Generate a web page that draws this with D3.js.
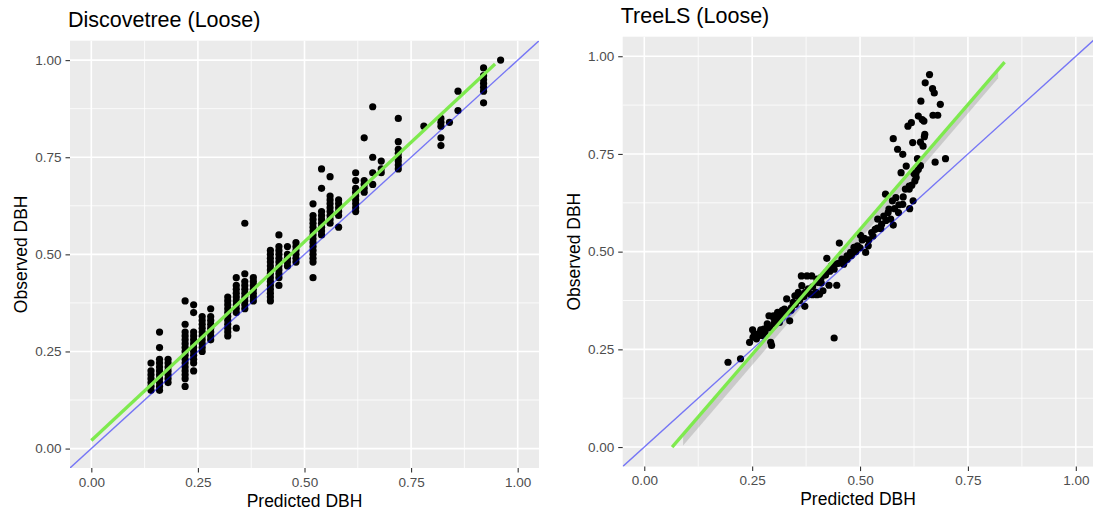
<!DOCTYPE html>
<html><head><meta charset="utf-8">
<script src="https://cdn.jsdelivr.net/npm/d3@7"></script>
<style>
html,body{margin:0;padding:0;background:#fff;}
svg{display:block;font-family:"Liberation Sans",Arial,sans-serif;}
</style></head>
<body><svg id="chart" width="1093" height="511"></svg>
<script>
// ---------------- data ----------------
const titles = ["Discovetree (Loose)", "TreeLS (Loose)"];
const xLabel = "Predicted DBH";
const yLabel = "Observed DBH";
const tickValues = [0, 0.25, 0.5, 0.75, 1.0];
const tickLabels = ["0.00", "0.25", "0.50", "0.75", "1.00"];
const minorValues = [0.125, 0.375, 0.625, 0.875];

// Discovetree: predicted value -> observed values
const discoveColumns = [
  [0.14, [0.15,0.16,0.17,0.18,0.19,0.20,0.22]],
  [0.16, [0.15,0.16,0.17,0.18,0.19,0.20,0.21,0.22,0.23,0.26,0.30]],
  [0.18, [0.17,0.18,0.19,0.20,0.21,0.22,0.23]],
  [0.22, [0.16,0.18,0.19,0.20,0.21,0.22,0.23,0.24,0.25,0.26,0.27,0.28,0.29,0.30,0.32,0.38]],
  [0.24, [0.20,0.22,0.23,0.24,0.25,0.26,0.27,0.28,0.29,0.30,0.35,0.37]],
  [0.26, [0.25,0.26,0.27,0.28,0.29,0.30,0.31,0.32,0.33,0.34]],
  [0.28, [0.28,0.29,0.30,0.31,0.32,0.33,0.34,0.36]],
  [0.32, [0.29,0.30,0.31,0.32,0.33,0.34,0.35,0.36,0.37,0.38,0.39]],
  [0.34, [0.31,0.35,0.36,0.37,0.38,0.39,0.40,0.41,0.42,0.44]],
  [0.36, [0.36,0.37,0.38,0.39,0.40,0.41,0.42,0.43,0.45,0.58]],
  [0.38, [0.38,0.39,0.40,0.41,0.42,0.43,0.44]],
  [0.42, [0.38,0.39,0.40,0.41,0.42,0.43,0.44,0.45,0.46,0.47,0.48,0.49,0.50,0.51]],
  [0.44, [0.42,0.44,0.45,0.46,0.47,0.48,0.49,0.50,0.51,0.52,0.55]],
  [0.46, [0.47,0.48,0.49,0.50,0.52]],
  [0.48, [0.48,0.49,0.50,0.51,0.52,0.53]],
  [0.52, [0.44,0.48,0.49,0.50,0.51,0.52,0.53,0.54,0.55,0.56,0.57,0.58,0.59,0.60,0.63]],
  [0.54, [0.55,0.56,0.57,0.58,0.59,0.60,0.61,0.67,0.72]],
  [0.56, [0.58,0.59,0.60,0.61,0.62,0.63,0.64,0.65,0.70]],
  [0.58, [0.57,0.60,0.61,0.62,0.63,0.64]],
  [0.62, [0.61,0.62,0.63,0.64,0.65,0.66,0.67,0.69,0.71]],
  [0.64, [0.66,0.67,0.68,0.69,0.80]],
  [0.66, [0.68,0.71,0.75,0.88]],
  [0.68, [0.71,0.72,0.74]],
  [0.72, [0.72,0.73,0.74,0.75,0.76,0.77,0.79,0.85]],
  [0.78, [0.83]],
  [0.82, [0.78,0.80,0.83,0.84,0.85]],
  [0.84, [0.84]],
  [0.86, [0.87,0.92]],
  [0.92, [0.89,0.92,0.93,0.94,0.95,0.96,0.98]],
  [0.96, [1.00]]
];

// TreeLS: [predicted, observed]
const treelsPoints = [
  [0.194,0.217],[0.223,0.226],[0.251,0.300],[0.244,0.268],[0.252,0.281],[0.260,0.277],
  [0.269,0.294],[0.277,0.302],[0.285,0.315],[0.293,0.268],[0.295,0.260],[0.289,0.336],
  [0.299,0.336],[0.309,0.345],[0.313,0.319],[0.325,0.353],[0.330,0.379],[0.337,0.323],
  [0.341,0.357],[0.349,0.387],[0.357,0.396],[0.365,0.413],[0.372,0.360],[0.364,0.438],
  [0.377,0.438],[0.388,0.438],[0.373,0.396],[0.385,0.391],[0.398,0.396],[0.406,0.391],
  [0.414,0.400],[0.402,0.421],[0.410,0.434],[0.422,0.447],[0.423,0.483],[0.428,0.414],
  [0.446,0.414],[0.440,0.279],[0.434,0.464],[0.442,0.468],[0.452,0.522],[0.458,0.481],
  [0.462,0.468],[0.470,0.489],[0.478,0.498],[0.486,0.511],[0.494,0.515],[0.501,0.542],
  [0.513,0.498],[0.519,0.515],[0.510,0.534],[0.527,0.549],[0.535,0.557],[0.541,0.583],
  [0.548,0.559],[0.555,0.591],[0.559,0.647],[0.567,0.609],[0.571,0.583],[0.577,0.568],
  [0.577,0.789],[0.575,0.630],[0.583,0.638],[0.587,0.762],[0.589,0.600],[0.595,0.702],
  [0.599,0.749],[0.599,0.621],[0.607,0.719],[0.611,0.821],[0.614,0.668],[0.614,0.660],
  [0.619,0.830],[0.622,0.779],[0.623,0.630],[0.627,0.681],[0.630,0.702],[0.633,0.738],
  [0.635,0.847],[0.641,0.885],[0.644,0.838],[0.646,0.770],[0.649,0.794],[0.648,0.834],
  [0.651,0.932],[0.661,0.953],[0.668,0.917],[0.672,0.906],[0.674,0.729],[0.669,0.849],
  [0.680,0.849],[0.686,0.877],[0.698,0.738],
  [0.255,0.290],[0.265,0.285],[0.270,0.300],[0.275,0.285],[0.280,0.295],[0.290,0.305],
  [0.300,0.315],[0.300,0.330],[0.310,0.325],[0.310,0.340],[0.320,0.335],[0.320,0.350],
  [0.330,0.345],[0.340,0.350],[0.345,0.370],[0.350,0.365],[0.360,0.375],[0.360,0.390],
  [0.370,0.385],[0.380,0.395],[0.380,0.405],[0.390,0.390],[0.390,0.410],[0.400,0.390],
  [0.400,0.430],[0.410,0.420],[0.420,0.440],[0.430,0.450],[0.440,0.455],[0.450,0.470],
  [0.470,0.480],[0.480,0.490],[0.490,0.500],[0.500,0.510],[0.505,0.530],[0.520,0.530],
  [0.530,0.540],[0.540,0.560],[0.550,0.570],[0.560,0.580],[0.565,0.600],[0.580,0.610],
  [0.590,0.620],[0.600,0.640],[0.605,0.660],[0.620,0.670],[0.630,0.690],[0.635,0.710],
  [0.640,0.720],[0.615,0.610],[0.625,0.700],[0.640,0.780],[0.650,0.800]
];

// fitted lines (end points) and confidence band
const discoveFit = [[0.0, 0.021], [0.947, 0.990]];
const treelsFit = [[0.0645, 0.0], [0.835, 0.985]];
const treelsBand = [[0.09, 0.004, 0.031], [0.82, 0.944, 0.970]]; // x, lower, upper

// ---------------- drawing ----------------
const svg = d3.select("#chart");
const panels = [
  {x0: 70, x1: 539, y0: 40.7, y1: 468, title: titles[0]},
  {x0: 622.7, x1: 1097.4, y0: 36.7, y1: 466.6, title: titles[1]}
];
const fontTick = 13.5, fontAxis = 17.5, fontTitle = 21.5;

panels.forEach((p, i) => {
  const x = d3.scaleLinear().domain([-0.05, 1.05]).range([p.x0, p.x1]);
  const y = d3.scaleLinear().domain([-0.05, 1.05]).range([p.y1, p.y0]);
  const g = svg.append("g");
  const clipId = "clip" + i;
  svg.append("clipPath").attr("id", clipId).append("rect")
    .attr("x", p.x0).attr("y", p.y0).attr("width", p.x1 - p.x0).attr("height", p.y1 - p.y0);

  g.append("rect").attr("x", p.x0).attr("y", p.y0)
    .attr("width", p.x1 - p.x0).attr("height", p.y1 - p.y0).attr("fill", "#EBEBEB");

  // minor grid
  g.selectAll(".mx").data(minorValues).join("line")
    .attr("x1", d => x(d)).attr("x2", d => x(d)).attr("y1", p.y0).attr("y2", p.y1)
    .attr("stroke", "#fff").attr("stroke-width", 0.8);
  g.selectAll(".my").data(minorValues).join("line")
    .attr("y1", d => y(d)).attr("y2", d => y(d)).attr("x1", p.x0).attr("x2", p.x1)
    .attr("stroke", "#fff").attr("stroke-width", 0.8);
  // major grid
  g.append("g").selectAll("line").data(tickValues).join("line")
    .attr("x1", d => x(d)).attr("x2", d => x(d)).attr("y1", p.y0).attr("y2", p.y1)
    .attr("stroke", "#fff").attr("stroke-width", 1.6);
  g.append("g").selectAll("line").data(tickValues).join("line")
    .attr("y1", d => y(d)).attr("y2", d => y(d)).attr("x1", p.x0).attr("x2", p.x1)
    .attr("stroke", "#fff").attr("stroke-width", 1.6);

  const plot = g.append("g").attr("clip-path", `url(#${clipId})`);

  // axes via d3 axis generators
  const xAxis = d3.axisBottom(x).tickValues(tickValues)
    .tickFormat((d, k) => tickLabels[k]).tickSize(4.5).tickPadding(4.5);
  const yAxis = d3.axisLeft(y).tickValues(tickValues)
    .tickFormat((d, k) => tickLabels[k]).tickSize(4.5).tickPadding(4);
  const gx = g.append("g").attr("transform", `translate(0,${p.y1})`).call(xAxis);
  const gy = g.append("g").attr("transform", `translate(${p.x0},0)`).call(yAxis);
  [gx, gy].forEach(a => {
    a.select(".domain").remove();
    a.selectAll(".tick line").attr("stroke", "#333333").attr("stroke-width", 1.1);
    a.selectAll(".tick text").attr("fill", "#4D4D4D")
      .style("font-size", fontTick + "px").style("font-family", "Liberation Sans, Arial, sans-serif");
  });

  // titles
  g.append("text").attr("x", p.x0 - 2).attr("y", p.y0 - 13.4)
    .attr("font-size", fontTitle).attr("fill", "#000").text(p.title);
  g.append("text").attr("x", (p.x0 + p.x1) / 2 - (i === 1 ? 2 : 0)).attr("y", p.y1 + 38.5)
    .attr("text-anchor", "middle").attr("font-size", fontAxis).attr("fill", "#000").text(xLabel);
  g.append("text").attr("transform", `translate(${p.x0 - 43},${(p.y0 + p.y1) / 2}) rotate(-90)`)
    .attr("text-anchor", "middle").attr("font-size", fontAxis).attr("fill", "#000").text(yLabel);

  const blueLine = () => plot.append("line")
      .attr("x1", x(-0.05)).attr("y1", y(-0.05)).attr("x2", x(1.05)).attr("y2", y(1.05))
      .attr("stroke", "blue").attr("stroke-opacity", 0.5).attr("stroke-width", 1.4);

  if (i === 0) {
    const pts = discoveColumns.flatMap(([px, ys]) => ys.map(v => [px, v]));
    plot.append("g").selectAll("circle").data(pts).join("circle")
      .attr("cx", d => x(d[0])).attr("cy", d => y(d[1])).attr("r", 3.6).attr("fill", "#000");
    blueLine();
    plot.append("path").datum(discoveFit)
      .attr("d", d3.line().x(d => x(d[0])).y(d => y(d[1])))
      .attr("stroke", "#7EEA4E").attr("stroke-width", 3.3).attr("fill", "none");
  } else {
    plot.append("path").datum(treelsBand)
      .attr("d", d3.area().x(d => x(d[0])).y0(d => y(d[1])).y1(d => y(d[2])))
      .attr("fill", "#999999").attr("fill-opacity", 0.4);
    plot.append("g").selectAll("circle").data(treelsPoints).join("circle")
      .attr("cx", d => x(d[0])).attr("cy", d => y(d[1])).attr("r", 3.6).attr("fill", "#000");
    blueLine();
    plot.append("path").datum(treelsFit)
      .attr("d", d3.line().x(d => x(d[0])).y(d => y(d[1])))
      .attr("stroke", "#7EEA4E").attr("stroke-width", 3.3).attr("fill", "none");
  }
});
</script></body></html>
